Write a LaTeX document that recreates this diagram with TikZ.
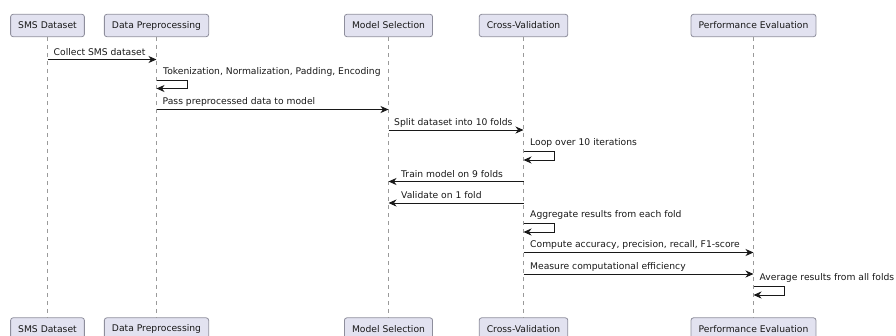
\documentclass[tikz,border=0pt]{standalone}
\usepackage{fontspec}
\setmainfont{DejaVu Sans}
\usetikzlibrary{arrows.meta}

\definecolor{boxfill}{HTML}{E2E2F0}
\definecolor{boxline}{HTML}{8E8E9C}
\definecolor{lifegray}{HTML}{9A9A9A}
\definecolor{ink}{HTML}{181818}

\tikzset{
  actor/.style={draw=boxline, fill=boxfill, rounded corners=2.5pt, line width=0.8pt,
    minimum height=22.4pt, inner xsep=7.6pt, inner ysep=0pt,
    font=\fontsize{9.2}{11}\selectfont, text=ink},
  lifeline/.style={draw=lifegray, line width=0.7pt, dash pattern=on 4pt off 4pt},
  msg/.style={draw=ink, line width=0.8pt, -{Stealth[length=8pt,width=7pt,inset=2.5pt]}},
  lbl/.style={font=\fontsize{9.2}{11}\selectfont, text=ink, inner sep=0pt, anchor=west},
}

\begin{document}
\begin{tikzpicture}[x=1pt, y=-1pt]
  \useasboundingbox (0,0) rectangle (896,335);

  % participants, top row
  \node[actor] (sms) at (47.5,25.5) {SMS Dataset};
  \node[actor] (dp)  at (156.5,25.5) {Data Preprocessing};
  \node[actor] (ms)  at (388.5,25.5) {Model Selection};
  \node[actor] (cv)  at (523.5,25.5) {Cross-Validation};
  \node[actor] (pe)  at (753.5,25.5) {Performance Evaluation};

  % participants, bottom row
  \node[actor] (smsB) at (47.5,329) {SMS Dataset};
  \node[actor] (dpB)  at (156.5,329) {Data Preprocessing};
  \node[actor] (msB)  at (388.5,329) {Model Selection};
  \node[actor] (cvB)  at (523.5,329) {Cross-Validation};
  \node[actor] (peB)  at (753.5,329) {Performance Evaluation};

  % lifelines
  \foreach \p in {sms,dp,ms,cv,pe}
    \draw[lifeline] (\p.south) -- (\p B.north);

  % message rows
  \coordinate (r1) at (0,59.5);
  \coordinate (r2a) at (0,80);   \coordinate (r2b) at (0,88.5);
  \coordinate (r3) at (0,109.5);
  \coordinate (r4) at (0,130);
  \coordinate (r5a) at (0,151.5); \coordinate (r5b) at (0,160);
  \coordinate (r6) at (0,181.5);
  \coordinate (r7) at (0,203);
  \coordinate (r8a) at (0,223.5); \coordinate (r8b) at (0,232);
  \coordinate (r9) at (0,252.5);
  \coordinate (r10) at (0,274);
  \coordinate (r11a) at (0,286); \coordinate (r11b) at (0,295);

  % 1
  \draw[msg] (sms |- r1) -- (dp |- r1);
  \node[lbl] (t1) at ([xshift=6pt,yshift=7.5pt]sms |- r1) {Collect SMS dataset};
  % 2 (self)
  \draw[msg] (dp |- r2a) -- ++(31,0) |- (dp |- r2b);
  \node[lbl] (t2) at ([xshift=6.5pt,yshift=8.5pt]dp |- r2a) {Tokenization, Normalization, Padding, Encoding};
  % 3
  \draw[msg] (dp |- r3) -- (ms |- r3);
  \node[lbl] (t3) at ([xshift=6pt,yshift=7.5pt]dp |- r3) {Pass preprocessed data to model};
  % 4
  \draw[msg] (ms |- r4) -- (cv |- r4);
  \node[lbl] (t4) at ([xshift=5.5pt,yshift=7.5pt]ms |- r4) {Split dataset into 10 folds};
  % 5 (self)
  \draw[msg] (cv |- r5a) -- ++(31,0) |- (cv |- r5b);
  \node[lbl] (t5) at ([xshift=6.5pt,yshift=8.5pt]cv |- r5a) {Loop over 10 iterations};
  % 6
  \draw[msg] (cv |- r6) -- (ms |- r6);
  \node[lbl] (t6) at ([xshift=12.5pt,yshift=7.5pt]ms |- r6) {Train model on 9 folds};
  % 7
  \draw[msg] (cv |- r7) -- (ms |- r7);
  \node[lbl] (t7) at ([xshift=12.5pt,yshift=7.5pt]ms |- r7) {Validate on 1 fold};
  % 8 (self)
  \draw[msg] (cv |- r8a) -- ++(31,0) |- (cv |- r8b);
  \node[lbl] (t8) at ([xshift=6.5pt,yshift=8.5pt]cv |- r8a) {Aggregate results from each fold};
  % 9
  \draw[msg] (cv |- r9) -- (pe |- r9);
  \node[lbl] (t9) at ([xshift=6.5pt,yshift=7.5pt]cv |- r9) {Compute accuracy, precision, recall, F1-score};
  % 10
  \draw[msg] (cv |- r10) -- (pe |- r10);
  \node[lbl] (t10) at ([xshift=6.5pt,yshift=7.5pt]cv |- r10) {Measure computational efficiency};
  % 11 (self)
  \draw[msg] (pe |- r11a) -- ++(31,0) |- (pe |- r11b);
  \node[lbl] (t11) at ([xshift=6pt,yshift=8.5pt]pe |- r11a) {Average results from all folds};
\end{tikzpicture}
\end{document}
